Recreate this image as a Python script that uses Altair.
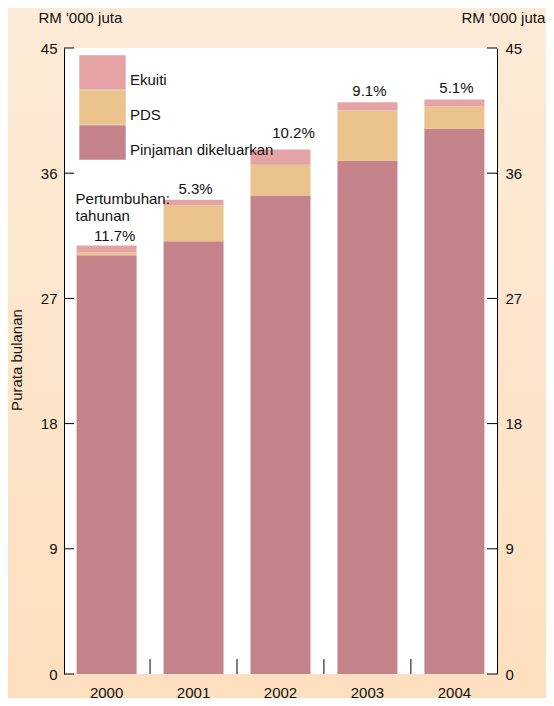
import altair as alt
import pandas as pd

# ---- data ----
years = ["2000", "2001", "2002", "2003", "2004"]
pinjaman = [30.1, 31.1, 34.4, 36.9, 39.2]
pds = [0.2, 2.6, 2.2, 3.6, 1.6]
ekuiti = [0.5, 0.4, 1.1, 0.6, 0.5]
growth = ["11.7%", "5.3%", "10.2%", "9.1%", "5.1%"]
series = ["Ekuiti", "PDS", "Pinjaman dikeluarkan"]
colors = ["#e5a3a6", "#e9c28c", "#c4828a"]
y_ticks = [0, 9, 18, 27, 36, 45]

W, H = 433, 626
FONT = "Liberation Sans"
INK = "#111111"

rows = []
for i, yr in enumerate(years):
    for s, v, o in (("Pinjaman dikeluarkan", pinjaman[i], 0),
                    ("PDS", pds[i], 1),
                    ("Ekuiti", ekuiti[i], 2)):
        rows.append({"year": yr, "series": s, "value": v, "ord": o})
df = pd.DataFrame(rows)
tot = pd.DataFrame({
    "year": years,
    "total": [round(a + b + c, 2) for a, b, c in zip(pinjaman, pds, ekuiti)],
    "growth": growth,
})
ticks_df = pd.DataFrame({"t": y_ticks})
bounds_df = pd.DataFrame({"year": years[1:]})
one = pd.DataFrame({"k": [0]})

xscale = alt.Scale(domain=years, paddingInner=0.31, paddingOuter=0.145)
yscale = alt.Scale(domain=[0, 45], nice=False, zero=True)

bg = alt.Chart(one).mark_rect(
    fill=alt.Gradient(
        gradient="linear",
        stops=[alt.GradientStop(color="#fdebd7", offset=0),
               alt.GradientStop(color="#fddfbf", offset=1)],
        x1=0, x2=0, y1=0, y2=1,
    )
).encode(x=alt.value(-56), x2=alt.value(W + 49), y=alt.value(-40), y2=alt.value(H + 24))

plotbg = alt.Chart(one).mark_rect(fill="white").encode(
    x=alt.value(0), x2=alt.value(W), y=alt.value(0), y2=alt.value(H)
)

bars = alt.Chart(df).mark_bar().encode(
    x=alt.X("year:N", scale=xscale, axis=alt.Axis(
        title=None, ticks=False, labels=False, domainColor="black",
        domainWidth=1, zindex=1)),
    y=alt.Y("value:Q", stack="zero", scale=yscale, axis=alt.Axis(
        orient="left", values=y_ticks, ticks=False, grid=False, labelPadding=7,
        labelFontSize=15, labelColor=INK, domainColor="black", domainWidth=1,
        title="RM '000 juta", titleAngle=0, titleX=-26, titleY=-31, titleAlign="left",
        titleBaseline="middle", titleFontSize=15, titleFontWeight="normal",
        titleColor=INK, titleFont=FONT, labelFont=FONT, zindex=1)),
    color=alt.Color("series:N", scale=alt.Scale(domain=series, range=colors), legend=alt.Legend(
        orient="none", legendX=21, legendY=7, title=None,
        symbolType="M-1.353,-1H1.353V1H-1.353Z", symbolSize=1176, symbolStrokeWidth=0,
        symbolOpacity=1, rowPadding=0, labelOffset=10, labelFontSize=15,
        labelBaseline="top",
        labelColor=INK, labelFont=FONT, padding=0, zindex=1)),
    order=alt.Order("ord:Q", sort="ascending"),
)

year_labels = alt.Chart(tot).mark_text(
    fontSize=15, baseline="middle", align="center", color=INK, font=FONT
).encode(
    x=alt.X("year:N", scale=xscale, axis=None),
    y=alt.value(H + 19),
    text="year:N",
)

left_ticks = alt.Chart(ticks_df).mark_rule(color="black").encode(
    y=alt.Y("t:Q", scale=yscale, axis=None), x=alt.value(0), x2=alt.value(10)
)

right_ticks = alt.Chart(ticks_df).mark_rule(color="black").encode(
    y=alt.Y("t:Q", scale=yscale, axis=alt.Axis(
        orient="right", values=y_ticks, ticks=False, grid=False, labelPadding=8,
        labelFontSize=15, labelColor=INK, domainColor="black", domainWidth=1,
        title="RM '000 juta", titleAngle=0, titleX=-36, titleY=-31, titleAlign="left",
        titleBaseline="middle", titleFontSize=15, titleFontWeight="normal",
        titleColor=INK, titleFont=FONT, labelFont=FONT, zindex=1)),
    x=alt.value(W - 10), x2=alt.value(W),
)

bottom_ticks = alt.Chart(bounds_df).mark_rule(color="black", xOffset=-13.5).encode(
    x=alt.X("year:N", scale=xscale, bandPosition=0, axis=None),
    y=alt.value(H - 15), y2=alt.value(H),
)

def growth_text(yrs, dx, dy):
    return alt.Chart(tot).transform_filter(
        alt.FieldOneOfPredicate(field="year", oneOf=yrs)
    ).mark_text(fontSize=15, baseline="middle", align="center", dx=dx, dy=dy,
                color=INK, font=FONT).encode(
        x=alt.X("year:N", scale=xscale, axis=None),
        y=alt.Y("total:Q", scale=yscale, axis=None),
        text="growth:N",
    )

g_main = growth_text(["2001", "2003", "2004"], 2, -11)
g_2000 = growth_text(["2000"], 8, -10)
g_2002 = growth_text(["2002"], 13, -17)

pert = alt.Chart(tot).transform_filter(
    alt.FieldEqualPredicate(field="year", equal="2000")
).mark_text(fontSize=15, baseline="middle", align="left", dx=-1, dy=-47,
            lineHeight=17, color=INK, font=FONT).encode(
    x=alt.X("year:N", scale=xscale, bandPosition=0, axis=None),
    y=alt.Y("total:Q", scale=yscale, axis=None),
    text=alt.value(["Pertumbuhan:", "tahunan"]),
)

ytitle = alt.Chart(one).mark_text(fontSize=15, angle=270, baseline="middle", align="center",
                                  color=INK, font=FONT).encode(
    x=alt.value(-47), y=alt.value(312), text=alt.value("Purata bulanan")
)

chart = alt.layer(
    bg, plotbg, bars, left_ticks, right_ticks, bottom_ticks, year_labels,
    g_main, g_2000, g_2002, pert, ytitle,
).resolve_axis(y="independent").properties(
    width=W, height=H, padding=0
).configure_view(strokeWidth=0).configure(font=FONT)

chart.save("out.html", embed_options={"renderer": "svg", "actions": False})
